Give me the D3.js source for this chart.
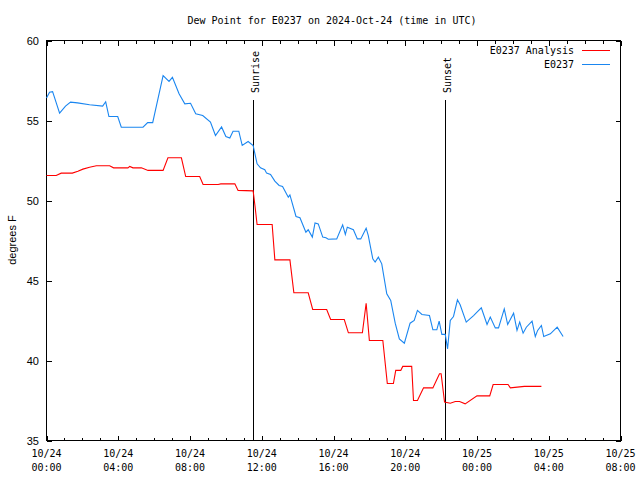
<!DOCTYPE html>
<html><head><meta charset="utf-8">
<script src="https://cdn.jsdelivr.net/npm/d3@7"></script>
<style>
body{margin:0;background:#fff;}
svg{display:block;}
text{fill:#000;}
</style></head>
<body>
<svg id="chart" width="640" height="480"></svg>
<script>
// hours since 2024-10-24 00:00 UTC
const obsHours = [0.0,0.17,0.34,0.73,1.06,1.34,1.73,2.40,3.13,3.30,3.48,3.97,4.17,5.38,5.64,5.92,6.50,6.83,7.02,7.39,7.71,8.03,8.32,8.71,9.14,9.42,9.76,10.00,10.22,10.40,10.72,10.91,11.24,11.52,11.74,11.93,12.17,12.27,12.49,12.73,12.97,13.16,13.48,13.57,13.91,14.13,14.46,14.59,14.82,14.97,15.15,15.40,15.58,15.71,16.18,16.51,16.66,16.77,17.11,17.33,17.52,17.82,17.94,18.19,18.32,18.50,18.69,18.97,19.19,19.44,19.67,19.95,20.27,20.50,20.68,20.93,21.35,21.54,21.76,21.89,22.04,22.23,22.36,22.51,22.69,22.91,23.06,23.40,23.81,24.00,24.24,24.56,24.74,25.02,25.20,25.52,25.71,26.04,26.23,26.38,26.57,26.75,27.07,27.25,27.38,27.59,27.72,28.09,28.47,28.80];
const obsDew = [56.4,56.77,56.8,55.46,55.9,56.15,56.1,55.98,55.9,56.17,55.25,55.25,54.58,54.58,54.87,54.87,57.8,57.44,57.7,56.67,56.04,56.08,55.42,55.31,54.9,54.06,54.6,54.0,53.9,54.33,54.33,53.44,53.69,53.44,52.29,52.04,51.92,51.71,51.63,51.21,50.94,50.88,50.21,50.35,49.0,48.92,48.02,48.17,47.71,48.6,48.54,47.71,47.67,47.58,47.6,48.48,47.88,48.33,48.17,47.6,47.6,48.27,47.81,46.35,46.15,46.46,46.04,44.17,43.75,42.33,41.35,41.08,42.33,42.5,43.13,42.88,42.81,41.92,41.92,42.46,41.63,41.63,40.73,42.5,42.75,43.79,43.48,42.4,42.81,43.02,43.29,42.25,42.71,42.04,42.04,43.23,42.25,42.96,41.88,42.4,41.71,42.08,42.46,41.5,41.88,42.19,41.5,41.67,42.08,41.5];

const anaHours = [0.0,0.54,0.82,1.44,1.75,2.03,2.40,2.78,3.52,3.74,4.54,4.64,4.82,5.29,5.66,6.50,6.77,7.52,7.76,8.54,8.73,9.57,9.72,10.50,10.68,11.52,11.62,11.74,12.58,12.73,13.57,13.79,14.59,14.84,15.62,15.84,16.60,16.83,17.61,17.82,18.00,18.75,19.00,19.34,19.47,19.75,19.86,20.36,20.46,20.68,21.02,21.54,21.91,22.00,22.19,22.51,22.79,23.03,23.34,24.00,24.71,24.90,25.73,25.86,26.64,27.59];
const anaDew = [51.56,51.56,51.71,51.71,51.83,51.96,52.08,52.17,52.17,52.04,52.04,52.13,52.04,52.04,51.88,51.88,52.67,52.67,51.5,51.5,51.0,51.0,51.04,51.04,50.63,50.6,49.69,48.5,48.5,46.29,46.29,44.23,44.23,43.19,43.19,42.56,42.56,41.73,41.73,43.58,41.25,41.25,38.56,38.56,39.38,39.38,39.63,39.63,37.5,37.5,38.29,38.29,39.17,39.17,37.4,37.33,37.44,37.44,37.29,37.79,37.79,38.5,38.5,38.29,38.38,38.38];

const sunEvents = [{label:"Sunrise", hour:11.5},{label:"Sunset", hour:22.22}];
const xTickHours = [0,4,8,12,16,20,24,28,32];
const yTicks = [35,40,45,50,55,60];
const seriesNames = ["E0237 Analysis","E0237"];
const seriesColors = ["#ff0000","#1a86f0"];
const titleText = "Dew Point for E0237 on 2024-Oct-24 (time in UTC)";
const yLabel = "degrees F";

const svg = d3.select("#chart");
const L=46.5, R=620.5, T=40.5, B=440.5;
const x = d3.scaleLinear().domain([0,32]).range([L,R]);
const y = d3.scaleLinear().domain([35,60]).range([B,T]);
const mono = "'DejaVu Sans Mono', 'Liberation Mono', monospace";
const sans = "'Liberation Sans', Arial, sans-serif";

svg.append("text").attr("x",332).attr("y",24).attr("text-anchor","middle")
  .style("font-family",mono).style("font-size","10px").text(titleText);

svg.append("text").attr("transform","translate(16,240) rotate(-90)").attr("text-anchor","middle")
  .style("font-family",sans).style("font-size","11px").text(yLabel);

const fmt = h => {
  const day = 24 + Math.floor(h/24);
  const hh = String(h%24).padStart(2,"0");
  return ["10/"+day, hh+":00"];
};
const minorHours = d3.range(0,33);

const gB = svg.append("g").attr("transform",`translate(0,${B})`)
  .call(d3.axisTop(x).tickValues(minorHours).tickSize(3).tickFormat(""));
const gB2 = svg.append("g").attr("transform",`translate(0,${B})`)
  .call(d3.axisTop(x).tickValues(xTickHours).tickSize(5).tickFormat(""));
const gT = svg.append("g").attr("transform",`translate(0,${T})`)
  .call(d3.axisBottom(x).tickValues(minorHours).tickSize(3).tickFormat(""));
const gT2 = svg.append("g").attr("transform",`translate(0,${T})`)
  .call(d3.axisBottom(x).tickValues(xTickHours).tickSize(5).tickFormat(""));
const gL = svg.append("g").attr("transform",`translate(${L},0)`)
  .call(d3.axisRight(y).tickValues(yTicks).tickSize(5).tickFormat(""));
const gR = svg.append("g").attr("transform",`translate(${R},0)`)
  .call(d3.axisLeft(y).tickValues(yTicks).tickSize(5).tickFormat(""));
[gB,gB2,gT,gT2,gL,gR].forEach(g=>{
  g.select(".domain").remove();
  g.selectAll("line").attr("stroke","#000").attr("shape-rendering","crispEdges");
});

const xl = svg.append("g");
xTickHours.forEach(h=>{
  const [a,b] = fmt(h);
  xl.append("text").attr("x",x(h)).attr("y",457).attr("text-anchor","middle")
    .style("font-family",mono).style("font-size","10px").text(a);
  xl.append("text").attr("x",x(h)).attr("y",471).attr("text-anchor","middle")
    .style("font-family",mono).style("font-size","10px").text(b);
});
yTicks.forEach(v=>{
  svg.append("text").attr("x",39).attr("y",y(v)+4).attr("text-anchor","end")
    .style("font-family",sans).style("font-size","11px").text(v);
});

svg.append("rect").attr("x",L).attr("y",T).attr("width",R-L).attr("height",B-T)
  .attr("fill","none").attr("stroke","#000").attr("shape-rendering","crispEdges");

sunEvents.forEach(s=>{
  const sx = Math.round(x(s.hour))+0.5;
  svg.append("line").attr("x1",sx).attr("x2",sx).attr("y1",99.5).attr("y2",B)
    .attr("stroke","#000").attr("shape-rendering","crispEdges");
  svg.append("text").attr("transform",`translate(${sx+5},93) rotate(-90)`)
    .attr("text-anchor","start").style("font-family",mono).style("font-size","10px").text(s.label);
});

const line = d3.line().x(d=>x(d[0])).y(d=>y(d[1]));
const anaData = anaHours.map((h,i)=>[h,anaDew[i]]);
const obsData = obsHours.map((h,i)=>[h,obsDew[i]]);
svg.append("path").datum(anaData).attr("d",line).attr("fill","none")
  .attr("stroke",seriesColors[0]).attr("stroke-width",1.1);
svg.append("path").datum(obsData).attr("d",line).attr("fill","none")
  .attr("stroke",seriesColors[1]).attr("stroke-width",1.1);

seriesNames.forEach((n,i)=>{
  const ly = 50 + i*14;
  svg.append("text").attr("x",574).attr("y",ly+4).attr("text-anchor","end")
    .style("font-family",mono).style("font-size","10px").text(n);
  svg.append("line").attr("x1",582).attr("x2",610).attr("y1",ly+0.5).attr("y2",ly+0.5)
    .attr("stroke",seriesColors[i]).attr("shape-rendering","crispEdges");
});
</script>
</body></html>
